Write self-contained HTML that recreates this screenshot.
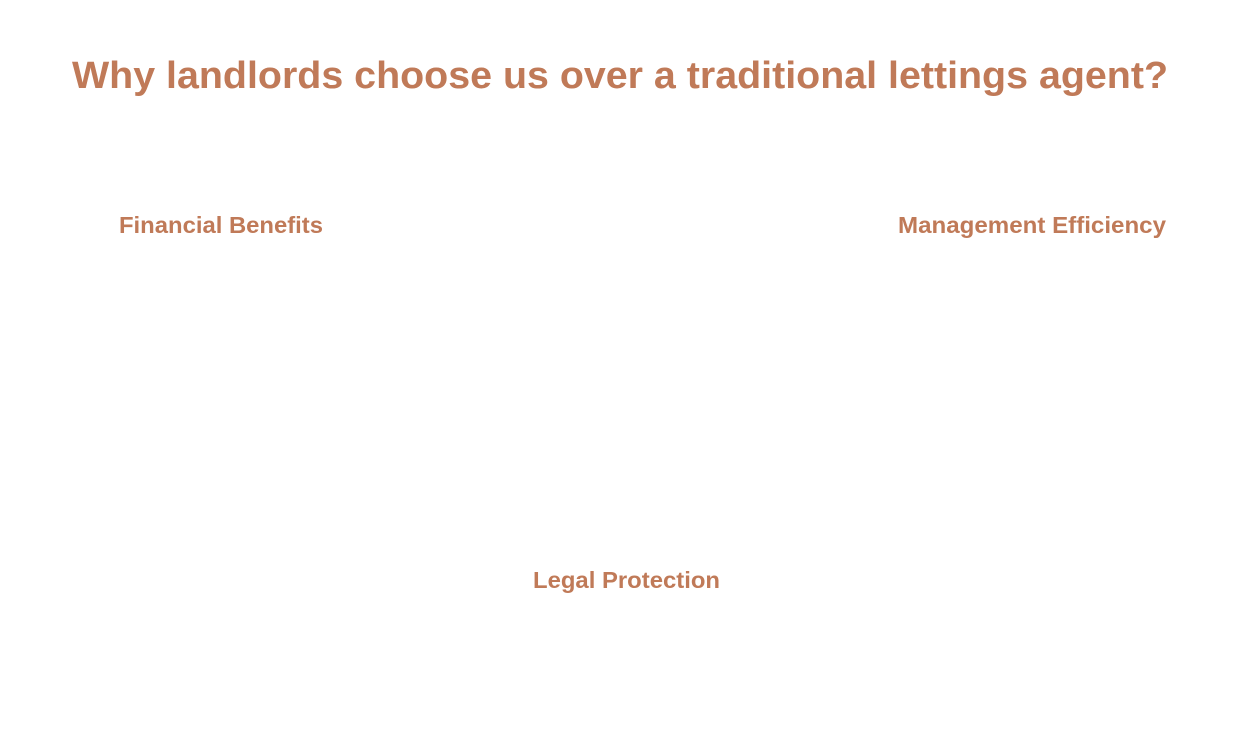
<!DOCTYPE html>
<html><head><meta charset="utf-8"><style>
html,body{margin:0;padding:0;background:#fff;width:1240px;height:732px;overflow:hidden}
svg{display:block}
text{font-family:"Liberation Sans",Arial,sans-serif;font-weight:bold;fill:#c07a58}
</style></head><body>
<svg width="1240" height="732" viewBox="0 0 1240 732">
<text x="72" y="88" font-size="38" textLength="1096" lengthAdjust="spacingAndGlyphs">Why landlords choose us over a traditional lettings agent?</text>
<text x="119" y="233" font-size="23" textLength="204" lengthAdjust="spacingAndGlyphs">Financial Benefits</text>
<text x="898" y="233" font-size="23" textLength="268" lengthAdjust="spacingAndGlyphs">Management Efficiency</text>
<text x="533" y="588" font-size="23" textLength="187" lengthAdjust="spacingAndGlyphs">Legal Protection</text>
</svg>
</body></html>
